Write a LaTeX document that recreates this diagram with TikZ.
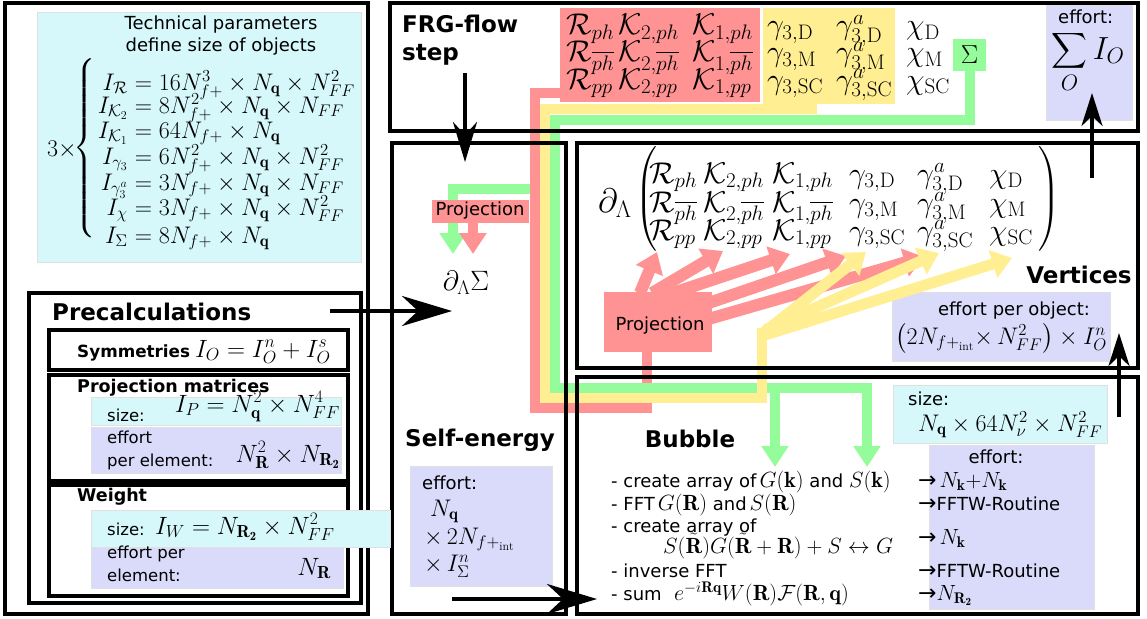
\RequirePackage{fix-cm}
\documentclass[tikz,border=0pt]{standalone}
\usepackage{amsmath}
\usepackage{fontspec}
\setsansfont{DejaVu Sans}
\usetikzlibrary{arrows.meta}
\definecolor{cyanc}{RGB}{214,248,251}
\definecolor{purc}{RGB}{218,218,250}
\definecolor{redc}{RGB}{255,146,146}
\definecolor{yelc}{RGB}{255,238,146}
\definecolor{grnc}{RGB}{148,252,154}
\newcommand\myfs[1]{\fontsize{#1}{#1}\selectfont}
\newcommand\mbx[1]{{\myfs{22}$#1$}}
\newcommand\rarr{{\myfs{22}→}}
\begin{document}
\begin{tikzpicture}[x=1pt,y=-1pt,
  blk/.style={draw=black, line width=4pt, inner sep=0pt, outer sep=0pt, anchor=north west},
  cy/.style={fill=cyanc, draw=black!12, line width=0.5pt, inner sep=0pt, outer sep=0pt, anchor=north west},
  pu/.style={fill=purc, draw=black!12, line width=0.5pt, inner sep=0pt, outer sep=0pt, anchor=north west},
  flr/.style={fill=redc, inner sep=0pt, outer sep=0pt, anchor=north west},
  fly/.style={fill=yelc, inner sep=0pt, outer sep=0pt, anchor=north west},
  flg/.style={fill=grnc, inner sep=0pt, outer sep=0pt, anchor=north west},
  tx/.style={font=\sffamily\myfs{18}, inner sep=0pt, anchor=base west},
  tp/.style={font=\sffamily\myfs{16.5}, inner sep=0pt, anchor=base west},
  tb/.style={font=\sffamily\myfs{18}, inner sep=0pt, anchor=base west},
  ttl/.style={font=\sffamily\bfseries\myfs{23}, inner sep=0pt, anchor=base west},
  ttm/.style={font=\sffamily\bfseries\myfs{17.5}, inner sep=0pt, anchor=base west},
  ml/.style={font=\myfs{24}, inner sep=0pt, anchor=base west},
  mp/.style={font=\myfs{25}, inner sep=0pt, anchor=base west},
  mt/.style={font=\myfs{30}, inner sep=0pt, anchor=base west},
  barrow/.style={line width=4pt, -{Stealth[length=50pt,width=30pt,inset=16pt]}},
  rb/.style={draw=redc, line width=10pt},
  yb/.style={draw=yelc, line width=10pt},
  gb/.style={draw=grnc, line width=10pt},
  ctip/.style={-{Triangle[length=21pt,width=26pt]}},
  ftip/.style={-{Triangle[length=20pt,width=28pt]}},
]
\useasboundingbox (0,0) rectangle (1147,618);

% ---------- backgrounds ----------
\node[cy, minimum width=324pt, minimum height=250pt] (techbg) at (37,12) {};
\node[cy, minimum width=250pt, minimum height=28pt] (pmcy) at (91,397) {};
\node[pu, minimum width=250pt, minimum height=46pt] (pmpu) at (91,427) {};
\node[pu, minimum width=252pt, minimum height=41pt] (wpu) at (91,547) {};
\node[pu, minimum width=86pt, minimum height=115pt] (effF) at (1046,5) {};
\node[pu, minimum width=142pt, minimum height=120pt] (effS) at (410,466) {};
\node[pu, minimum width=218pt, minimum height=69pt] (effV) at (892,292) {};
\node[cy, minimum width=214pt, minimum height=58pt] (bcy) at (893,385) {};
\node[pu, minimum width=165pt, minimum height=164pt] (bpu) at (929,445) {};

% ---------- coloured bands ----------
\draw[gb, ctip] (556,189) -- (453,189) -- (453,254);
\draw[rb] (565,93) -- (535,93) -- (535,408) -- (647,408) -- (647,350);
\node[flr, minimum width=200pt, minimum height=94pt] (redtop) at (560,8) {};
\node[fill=redc, font=\sffamily\myfs{18}, inner sep=2pt, minimum height=23pt, minimum width=97pt] (projS) at (480,211) {Projection};
\draw[rb, ctip] (projS.south -| 473,0) -- (473,254);
\draw[gb] (970,71) -- (970,119.5) -- (555,119.5) -- (555,388) -- (867,388) -- (867,400);
\draw[gb, ctip] (867,395) -- (867,467);
\draw[gb, ctip] (775,393) -- (775,467);
\draw[yb] (817,108.5) -- (545,108.5) -- (545,398) -- (762,398) -- (762,328);
\node[fly, minimum width=132pt, minimum height=96pt] (yeltop) at (763,8) {};
\node[flg, minimum width=33pt, minimum height=32pt] (sig) at (953,39) {};
\node[font=\myfs{26}, inner sep=0pt] (sigt) at (sig.center) {$\Sigma$};

% red fan
\foreach \sx/\sy/\ex/\ey [count=\i] in {640/293/657/252, 652/293/723/251, 664/296/790/254, 700/306/846/256, 705/320/924/257}{
  \coordinate (rs\i) at (\sx,\sy);
  \coordinate (re\i) at (\ex,\ey);
  \draw[draw=redc, line width=12pt, ftip] (rs\i) -- (re\i);
}
% yellow fan
\foreach \sx/\sy/\ex/\ey [count=\i] in {762/334/866/252, 765/330/939/253, 765/335/1012/258}{
  \coordinate (ys\i) at (\sx,\sy);
  \coordinate (ye\i) at (\ex,\ey);
  \draw[draw=yelc, line width=11pt, ftip] (ys\i) -- (ye\i);
}
\node[flr, minimum width=108pt, minimum height=60pt] (projV) at (604,292) {};
\node[font=\sffamily\myfs{18}, inner sep=0pt] (projVt) at (660,326) {Projection};

% ---------- black frames ----------
\node[blk, minimum width=363pt, minimum height=611pt] (left) at (5,3) {};
\node[blk, minimum width=332pt, minimum height=310pt] (pre) at (29,293) {};
\node[blk, minimum width=299pt, minimum height=40pt] (sym) at (49,330) {};
\node[blk, minimum width=299pt, minimum height=106pt] (pm) at (49,375) {};
\node[blk, minimum width=299pt, minimum height=111pt] (wt) at (49,485) {};
\node[blk, minimum width=748pt, minimum height=128pt] (frg) at (390,3) {};
\node[blk, minimum width=174pt, minimum height=471pt] (self) at (392,143) {};
\node[blk, minimum width=561pt, minimum height=225pt] (vert) at (577,143) {};
\node[blk, minimum width=561pt, minimum height=237pt] (bub) at (577,377) {};
\node[cy, minimum width=299pt, minimum height=37pt] (wcy) at (91,510) {};

% ---------- technical parameters ----------
\node[tx, anchor=base] (techt1) at (221,30) {Technical parameters};
\node[tx, anchor=base] (techt2) at (221,52) {define size of objects};
\node[ml, anchor=east] (three) at (77,150) {$3\times$};
\node[ml, anchor=west] (brace) at (73,148) {$\left\{\vrule height 80pt depth 80pt width 0pt\right.$};
\foreach \l/\r/\yy [count=\i] in {
  I_{\mathcal R}/16N^3_{f+}\times N_{\mathbf q}\times N^2_{FF}/90,
  I_{\mathcal K_2}/8N^2_{f+}\times N_{\mathbf q}\times N_{FF}/113,
  I_{\mathcal K_1}/64N_{f+}\times N_{\mathbf q}/138,
  I_{\gamma_3}/6N^2_{f+}\times N_{\mathbf q}\times N^2_{FF}/164,
  I_{\gamma^a_3}/3N_{f+}\times N_{\mathbf q}\times N_{FF}/190,
  I_{\chi}/3N_{f+}\times N_{\mathbf q}\times N^2_{FF}/215,
  I_{\Sigma}/8N_{f+}\times N_{\mathbf q}/243}{
  \node[ml, anchor=base east] (tl\i) at (128,\yy) {$\l$};
  \node[ml, anchor=base west] (tr\i) at (128,\yy) {${}=\r$};
}

% ---------- precalculations ----------
\node[font=\sffamily\bfseries\myfs{23}, inner sep=0pt, anchor=base west] (pret) at (52,320) {Precalculations};
\node[ttm, font=\sffamily\bfseries\myfs{16.8}] (symt) at (77,357) {Symmetries};
\node[mp] (symf) at (195,357) {$I_O=I^n_O+I^s_O$};
\node[ttm] (pmt) at (77,392) {Projection matrices};
\node[tp] (pms) at (107,421) {size:};
\node[mp, anchor=base east] (pmf) at (340,412) {$I_P=N^2_{\mathbf q}\times N^4_{FF}$};
\node[tp] (pme1) at (107,443) {effort};
\node[tp] (pme2) at (107,466) {per element:};
\node[mp, anchor=base east] (pmef) at (340,462) {$N^2_{\mathbf R}\times N_{\mathbf{R_2}}$};
\node[ttm] (wtt) at (77,501) {Weight};
\node[tp] (wts) at (107,535) {size:};
\node[mp] (wtf) at (155,534) {$I_W=N_{\mathbf{R_2}}\times N^2_{FF}$};
\node[tp] (wte1) at (107,558) {effort per};
\node[tp] (wte2) at (107,581) {element:};
\node[mp, anchor=base east] (wtef) at (331,575) {$N_{\mathbf R}$};

% ---------- FRG-flow step ----------
\node[ttl] (frgt1) at (402,33) {FRG-flow};
\node[ttl] (frgt2) at (402,60) {step};
\foreach \s/\g/\yy [count=\i] in {ph/\mathrm{D}/35, \overline{ph}/\mathrm{M}/62, pp/\mathrm{SC}/89}{
  \node[mt] (fR\i) at (566,\yy) {$\mathcal R_{\s}$};
  \node[mt] (fKb\i) at (618,\yy) {$\mathcal K_{2,\s}$};
  \node[mt] (fKa\i) at (692,\yy) {$\mathcal K_{1,\s}$};
  \node[mt] (fg\i) at (767,\yy) {$\gamma_{3,\g}$};
  \node[mt] (fga\i) at (836,\yy) {$\gamma^a_{3,\g}$};
  \node[mt] (fc\i) at (906,\yy) {$\chi_{\g}$};
}
\node[tx] (efft) at (1058,24) {effort:};
\node[font=\myfs{32}, inner sep=0pt] (effsum) at (1088,62) {$\displaystyle\sum_O I_O$};

% ---------- self-energy ----------
\node[font=\myfs{28}, inner sep=0pt, anchor=base] (dsig) at (466,290) {$\partial_\Lambda\Sigma$};
\node[ttl, anchor=base] (selft) at (480,446) {Self-energy};
\node[tx] (se1) at (422,489) {effort:};
\node[ml] (se2) at (430,516) {$N_{\mathbf q}$};
\node[ml] (se3) at (424,544) {$\times\, 2N_{f+_{\mathrm{int}}}$};
\node[ml] (se4) at (424,571) {$\times\, I^n_\Sigma$};

% ---------- vertices ----------
\node[font=\myfs{34}, inner sep=0pt, anchor=base west] (dl) at (598,212) {$\partial_\Lambda$};
\node[mt, anchor=west] (lp) at (635,199) {$\left(\vrule height 41pt depth 41pt width 0pt\right.$};
\node[mt, anchor=west] (rp) at (1037,199) {$\left.\vrule height 41pt depth 41pt width 0pt\right)$};
\foreach \s/\g/\yy [count=\i] in {ph/\mathrm{D}/183, \overline{ph}/\mathrm{M}/212, pp/\mathrm{SC}/240}{
  \node[mt] (vR\i) at (649,\yy) {$\mathcal R_{\s}$};
  \node[mt] (vKb\i) at (703,\yy) {$\mathcal K_{2,\s}$};
  \node[mt] (vKa\i) at (772,\yy) {$\mathcal K_{1,\s}$};
  \node[mt] (vg\i) at (849,\yy) {$\gamma_{3,\g}$};
  \node[mt] (vga\i) at (917,\yy) {$\gamma^a_{3,\g}$};
  \node[mt] (vc\i) at (989,\yy) {$\chi_{\g}$};
}
\node[font=\sffamily\bfseries\myfs{23}, inner sep=0pt, anchor=base] (vertt) at (1079,283) {Vertices};
\node[tx, anchor=base] (ev1) at (1014,315) {effort per object:};
\node[ml, anchor=base] (ev2) at (1001,344) {$\bigl(2N_{f+_{\mathrm{int}}}{\times}\, N^2_{FF}\bigr)\times I^n_O$};

% ---------- bubble ----------
\node[ttl, anchor=base] (bubt) at (690,447) {Bubble};
\node[tx] (bs1) at (908,405) {size:};
\node[ml] (bs2) at (918,431) {$N_{\mathbf q}\times 64N^2_\nu\times N^2_{FF}$};
\node[tx, anchor=base] (be) at (996,463) {effort:};
\node[tb] (bl1) at (611,487) {- create array of\,\mbx{G(\mathbf k)} and \mbx{S(\mathbf k)}};
\node[tb] (bl2) at (611,510) {- FFT\,\mbx{G(\mathbf R)} and\,\mbx{S(\mathbf R)}};
\node[tb] (bl3) at (611,532) {- create array of};
\node[tb] (bl4) at (663,553) {\mbx{S(\tilde{\mathbf R})G(\tilde{\mathbf R}+\mathbf R)+S\leftrightarrow G}};
\node[tb] (bl5) at (611,577) {- inverse FFT};
\node[tb] (bl6) at (611,600) {- sum};
\node[tb] (bl6f) at (674,600) {\mbx{e^{-i\mathbf{Rq}}W(\mathbf R)\mathcal F(\mathbf R,\mathbf q)}};
\node[tb] (br1) at (918,487) {\rarr\,\mbx{N_{\mathbf k}{+}N_{\mathbf k}}};
\node[tb] (br2) at (918,510) {\rarr FFTW-Routine};
\node[tb] (br3) at (918,544) {\rarr\,\mbx{N_{\mathbf k}}};
\node[tb] (br5) at (918,577) {\rarr FFTW-Routine};
\node[tb] (br6) at (918,600) {\rarr\mbx{N_{\mathbf{R_2}}}};

% ---------- black arrows ----------
\coordinate (a1s) at (465,73);   \coordinate (a1e) at (465,162);
\coordinate (a2s) at (330,311);  \coordinate (a2e) at (452,311);
\coordinate (a3s) at (452,599);  \coordinate (a3e) at (597,599);
\coordinate (a4s) at (1092,178); \coordinate (a4e) at (1092,93);
\coordinate (a5s) at (1119,417); \coordinate (a5e) at (1119,333);
\draw[line width=4pt, -{Stealth[length=40pt,width=24pt,inset=13pt]}] (a1s) -- (a1e);
\draw[barrow] (a2s) -- (a2e);
\draw[barrow] (a3s) -- (a3e);
\draw[line width=4pt, -{Stealth[length=33pt,width=21pt,inset=10pt]}] (a4s) -- (a4e);
\draw[line width=4pt, -{Stealth[length=33pt,width=21pt,inset=10pt]}] (a5s) -- (a5e);
\end{tikzpicture}
\end{document}
